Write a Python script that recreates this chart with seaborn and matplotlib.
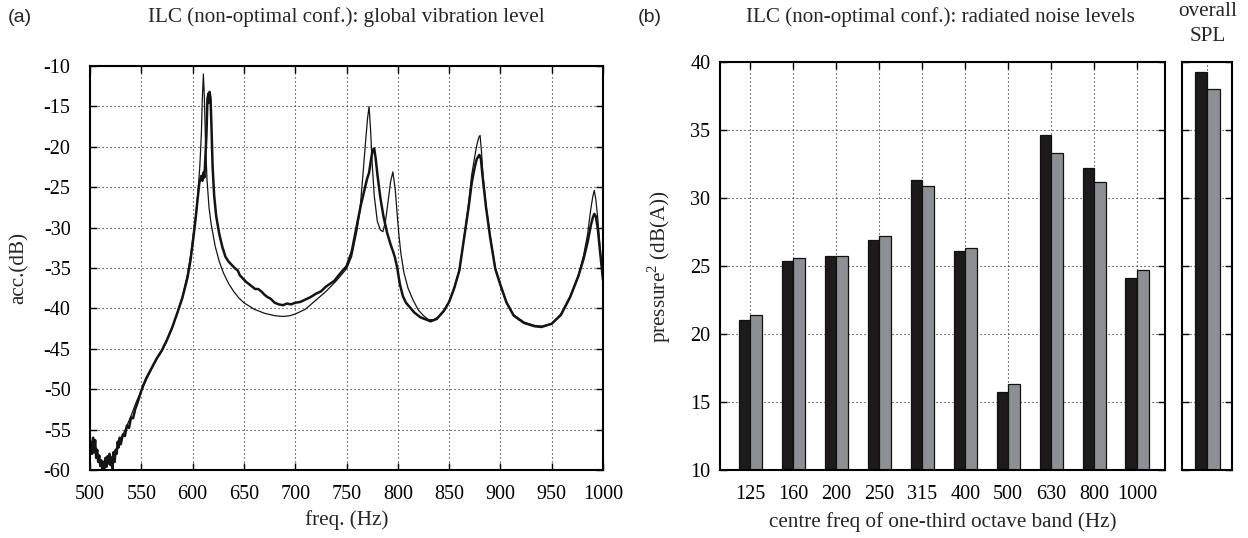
import numpy as np
import pandas as pd
import matplotlib
matplotlib.use("Agg")
import matplotlib.pyplot as plt
import seaborn as sns

# ---------------- data: panel (a) ----------------
thin_freq = [500, 503, 506, 510, 515, 520, 525, 530, 535, 540, 545, 550, 555, 560, 565,
             570, 575, 580, 585, 590, 595, 598, 601, 603, 605, 607, 608.5, 609.5, 610.5,
             611.5, 612.5, 614, 616, 618, 622, 626, 630, 635, 640, 645, 650, 660, 670,
             680, 688, 695, 700, 710, 720, 730, 740, 750, 755, 760, 763, 766, 768.5,
             770.5, 772, 773.5, 775, 777, 780, 783, 785.5, 788, 790.5, 793, 795.2, 797.5,
             799.5, 801, 803, 806, 810, 815, 820, 825, 830, 835, 840, 845, 850, 855, 860,
             865, 869, 872, 875, 877, 879, 880.2, 881.5, 883, 886, 890, 895, 900, 906,
             913, 923, 933, 940, 950, 959, 968, 976, 981, 985, 988, 990, 991.5, 993,
             995, 997, 1000]
thin_db = [-57.0, -56.5, -58.0, -59.0, -59.3, -58.6, -57.6, -56.2, -54.8, -53.3, -51.6,
           -50.2, -48.8, -47.5, -46.3, -45.3, -44.0, -42.4, -40.6, -38.6, -35.8, -33.5,
           -30.5, -28.5, -26.0, -22.5, -18.5, -14.0, -11.0, -14.0, -19.0, -24.0, -27.5,
           -29.5, -32.3, -34.2, -35.6, -36.9, -37.9, -38.7, -39.3, -40.1, -40.6, -40.9,
           -41.0, -40.9, -40.7, -40.1, -39.0, -37.9, -36.6, -35.1, -33.6, -30.5, -28.0,
           -23.5, -19.5, -16.5, -15.0, -18.0, -22.0, -26.0, -29.2, -30.3, -30.5, -29.2,
           -26.8, -24.3, -23.1, -25.3, -28.5, -30.8, -33.2, -35.6, -37.5, -39.0, -40.2,
           -40.9, -41.4, -41.4, -41.0, -40.2, -39.2, -37.4, -35.2, -30.8, -27.0, -23.5,
           -21.2, -19.8, -18.8, -18.6, -20.5, -23.5, -27.3, -31.0, -35.0, -37.0, -39.2,
           -40.8, -41.7, -42.1, -42.2, -41.9, -40.7, -38.5, -35.9, -33.5, -30.8, -27.8,
           -26.2, -25.4, -26.5, -29.0, -32.5, -36.5]

thick_freq = [500, 501, 502, 503, 504, 505, 506, 507, 508, 509, 510, 511, 512, 513, 514,
              515, 516, 517, 518, 519, 520, 521, 522, 523, 524, 525, 526, 527, 528, 529,
              530, 532, 534, 536, 538, 540, 542, 544, 546, 548, 550, 552, 555, 560, 565,
              570, 575, 580, 585, 590, 595, 598, 601, 603, 605, 606.5, 607.5, 608.5,
              609.5, 610.5, 611.5, 612.5, 613.5, 614.5, 615.5, 616, 616.5, 617.5, 618.5,
              619.5, 621, 623, 626, 629, 632, 635, 638, 641, 644, 646, 649, 652, 655, 658,
              661, 664, 667, 670, 673, 676, 680, 684, 688, 692, 696, 700, 705, 710, 715,
              720, 725, 730, 738, 745, 750, 755, 760, 764, 767, 770, 772, 774, 775.5, 777,
              778.5, 780, 783, 786, 789.5, 793, 795.5, 797, 799.5, 802, 805, 808, 812, 816,
              822, 828, 832, 838, 845, 850, 855, 860, 865, 869, 872, 875, 877, 879.5, 881,
              882.5, 886, 890, 895, 900, 906, 913, 923, 933, 940, 950, 959, 968, 976, 981,
              985, 988, 990, 991.5, 993, 995, 997, 1000]
thick_db = [-57.5, -56.5, -58.0, -56.0, -57.8, -56.3, -58.5, -57.5, -59.0, -58.2, -59.5,
            -58.8, -60.0, -59.0, -59.8, -58.5, -59.6, -58.3, -59.2, -58.0, -59.4, -58.5,
            -59.8, -57.8, -59.0, -57.5, -58.0, -56.5, -57.2, -56.0, -56.8, -55.6, -55.8,
            -54.5, -54.8, -53.5, -53.6, -52.5, -51.8, -51.0, -50.2, -49.5, -48.6, -47.4,
            -46.2, -45.2, -43.9, -42.4, -40.6, -38.7, -36.2, -34.0, -31.0, -28.8, -26.3,
            -24.5, -24.0, -23.6, -24.2, -23.2, -23.8, -21.0, -18.5, -14.0, -13.4, -14.5,
            -13.2, -14.0, -18.0, -22.5, -26.0, -28.6, -30.8, -32.4, -33.6, -34.2, -34.6,
            -35.0, -35.3, -35.9, -36.3, -36.7, -37.0, -37.3, -37.6, -37.6, -37.9, -38.3,
            -38.6, -38.8, -39.3, -39.5, -39.6, -39.4, -39.5, -39.3, -39.2, -38.9, -38.6,
            -38.2, -37.9, -37.3, -36.6, -35.5, -34.8, -33.0, -29.8, -27.2, -25.6, -24.0,
            -23.2, -21.5, -20.4, -20.2, -21.5, -23.3, -26.3, -28.6, -30.6, -32.1, -33.0,
            -33.6, -35.0, -37.0, -38.5, -39.3, -39.9, -40.5, -41.1, -41.4, -41.6, -41.3,
            -40.3, -39.2, -37.5, -35.3, -31.0, -27.5, -24.5, -22.5, -21.5, -21.0, -21.5,
            -23.5, -27.5, -31.2, -35.1, -37.1, -39.3, -40.9, -41.8, -42.2, -42.3, -41.9,
            -40.8, -38.6, -36.0, -33.9, -31.8, -29.8, -28.8, -28.3, -28.6, -30.2, -32.8,
            -36.5]

# ---------------- data: panel (b) ----------------
bands = ["125", "160", "200", "250", "315", "400", "500", "630", "800", "1000"]
level_before = [21.0, 25.4, 25.7, 26.9, 31.3, 26.1, 15.7, 34.6, 32.2, 24.1]
level_after = [21.4, 25.6, 25.7, 27.2, 30.9, 26.3, 16.3, 33.3, 31.2, 24.7]
overall_before = [39.25]
overall_after = [38.0]
series_names = ["before", "after"]

# ---------------- style ----------------
sns.set_theme(style="white")
plt.rcParams["font.family"] = ["Liberation Serif", "DejaVu Serif"]
plt.rcParams["axes.unicode_minus"] = False
plt.rcParams["mathtext.fontset"] = "custom"
plt.rcParams["mathtext.rm"] = "Liberation Serif"

FS_TICK = 14.5
FS_LAB = 15.2
GRID = dict(color="#222222", linestyle=(0, (1, 2.6)), linewidth=0.8)

fig = plt.figure(figsize=(12.48, 5.38), dpi=100)
ax_a = fig.add_axes([90 / 1248, 68 / 538, 513 / 1248, 404 / 538])
ax_b = fig.add_axes([720 / 1248, 68 / 538, 445 / 1248, 408 / 538])
ax_c = fig.add_axes([1182 / 1248, 68 / 538, 50 / 1248, 408 / 538])


def style_axes(ax, ypad=6):
    for s in ax.spines.values():
        s.set_linewidth(1.5)
        s.set_color("black")
    ax.tick_params(direction="in", length=5, width=1, top=True, right=True,
                   bottom=True, left=True, labelsize=FS_TICK, colors="black")
    ax.tick_params(axis="x", pad=11)
    ax.tick_params(axis="y", pad=ypad)
    ax.grid(True, **GRID)
    ax.set_axisbelow(True)


# ---- panel (a)
df_thin = pd.DataFrame({"freq": thin_freq, "dB": thin_db})
df_thick = pd.DataFrame({"freq": thick_freq, "dB": thick_db})
sns.lineplot(data=df_thick, x="freq", y="dB", ax=ax_a, color="#141414", lw=1.8,
             sort=False, estimator=None)
sns.lineplot(data=df_thin, x="freq", y="dB", ax=ax_a, color="#141414", lw=0.9,
             sort=False, estimator=None)
ax_a.set_xlim(500, 1000)
ax_a.set_ylim(-60, -10)
ax_a.set_xticks(np.arange(500, 1001, 50))
ax_a.set_yticks(np.arange(-60, -9, 5))
style_axes(ax_a, ypad=14)
ax_a.set_xlabel("freq. (Hz)", fontsize=FS_LAB)
ax_a.set_ylabel("acc.(dB)", fontsize=FS_LAB)
ax_a.xaxis.set_label_coords(0.5, -(512 - 472) / 404)
ax_a.yaxis.set_label_coords(-(90 - 29) / 513, 0.5)

# ---- panel (b)
df_b = pd.DataFrame({
    "band": bands * 2,
    "level": level_before + level_after,
    "series": [series_names[0]] * len(bands) + [series_names[1]] * len(bands),
})
pal = {"before": "#1c1a1b", "after": "#8e8f92"}
sns.barplot(data=df_b, x="band", y="level", hue="series", order=bands,
            hue_order=series_names, palette=pal, width=0.54, gap=0, dodge=True,
            edgecolor="#111111", linewidth=0.9, saturation=1, legend=False, ax=ax_b,
            errorbar=None)
ax_b.set_xlim(-0.71, 9.65)
ax_b.set_ylim(10, 40)
ax_b.set_yticks(np.arange(10, 41, 5))
style_axes(ax_b, ypad=7)
ax_b.set_xlabel("centre freq of one-third octave band (Hz)", fontsize=FS_LAB)
ax_b.set_ylabel("pressure$^2$ (dB(A))", fontsize=FS_LAB)
ax_b.xaxis.set_label_coords(0.5, -(512 - 470) / 408)
ax_b.yaxis.set_label_coords(-(720 - 673) / 445, 0.5)

# ---- overall SPL
df_c = pd.DataFrame({
    "band": ["overall"] * 2,
    "level": overall_before + overall_after,
    "series": series_names,
})
sns.barplot(data=df_c, x="band", y="level", hue="series", hue_order=series_names,
            palette=pal, width=0.6, gap=0, dodge=True, edgecolor="#111111",
            linewidth=0.9, saturation=1, legend=False, ax=ax_c, errorbar=None)
ax_c.set_xlim(-0.6, 0.6)
ax_c.set_ylim(10, 40)
ax_c.set_yticks(np.arange(10, 41, 5))
style_axes(ax_c)
ax_c.tick_params(labelleft=False, labelbottom=False, bottom=False, top=False)
ax_c.set_xlabel("")
ax_c.set_ylabel("")

# titles and texts placed in figure pixels
def fig_text(x, y, s, **kw):
    fig.text(x / 1248, 1 - y / 538, s, **kw)

fig_text(346, 17, "ILC (non-optimal conf.): global vibration level", ha="center",
         va="center", fontsize=FS_LAB)
fig_text(940, 17, "ILC (non-optimal conf.): radiated noise levels", ha="center",
         va="center", fontsize=FS_LAB)
fig_text(1208, 11, "overall", ha="center", va="center", fontsize=FS_LAB)
fig_text(1208, 37, "SPL", ha="center", va="center", fontsize=FS_LAB)
fig_text(8, 17, "(a)", ha="left", va="center", fontsize=14,
         family=["Liberation Sans", "DejaVu Sans"])
fig_text(638, 17, "(b)", ha="left", va="center", fontsize=14,
         family=["Liberation Sans", "DejaVu Sans"])

fig.savefig("out.png", dpi=100)
